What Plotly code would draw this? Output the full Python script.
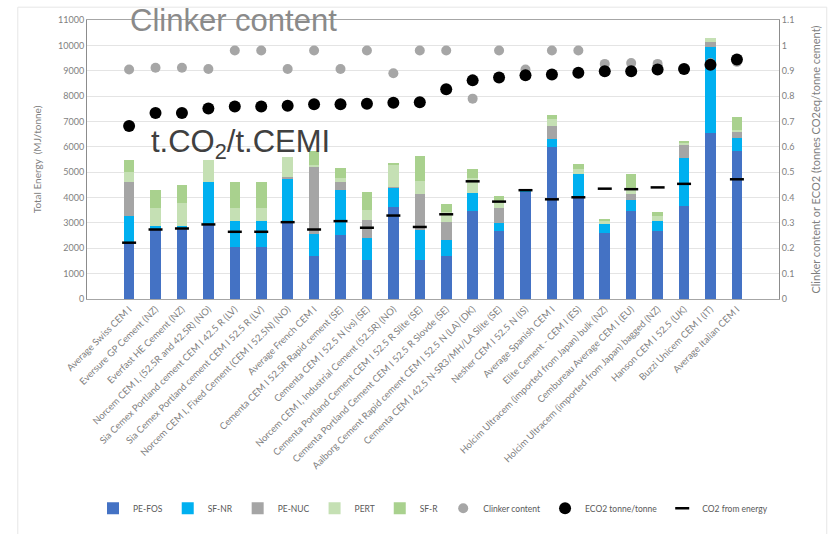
import plotly.graph_objects as go

categories = [
    "Average Swiss CEM I",
    "Eversure GP Cement (NZ)",
    "Everfast HE Cement (NZ)",
    "Norcem CEM I, (52.5R and 42.5R) (NO)",
    "Sia Cemex Portland cement CEM I 42.5 R (LV)",
    "Sia Cemex Portland cement CEM I 52.5 R (LV)",
    "Norcem CEM I, Fixed Cement (CEM I 52.5N) (NO)",
    "Average French CEM I",
    "Cementa CEM I 52.5R Rapid cement (SE)",
    "Cementa CEM I 52.5 N (vs) (SE)",
    "Norcem CEM I, Industrial Cement (52.5R) (NO)",
    "Cementa Portland Cement CEM I 52.5 R Slite (SE)",
    "Cementa Portland Cement CEM I 52.5 R Slovde (SE)",
    "Aalborg Cement Rapid cement CEM I 52.5 N (LA) (DK)",
    "Cementa CEM I 42.5 N-SR3/MH/LA Slite (SE)",
    "Nesher CEM I 52.5 N (IS)",
    "Average Spanish CEM I",
    "Elite Cement - CEM I (ES)",
    "Holcim Ultracem (imported from Japan) bulk (NZ)",
    "Cembureau Average CEM I (EU)",
    "Holcim Ultracem (imported from Japan) bagged (NZ)",
    "Hanson CEM I 52.5 (UK)",
    "Buzzi Unicem CEM I (IT)",
    "Average Italian CEM I",
]

pe_fos = [2220, 2760, 2790, 2940, 2070, 2070, 3050, 1680, 2510, 1530, 3610, 1530,
          1700, 3460, 2680, 4230, 5990, 4020, 2610, 3460, 2700, 3650, 6540, 5830]
sf_nr = [1070, 110, 80, 1690, 1020, 1020, 1700, 870, 1790, 890, 780, 1210,
         620, 710, 310, 50, 300, 910, 350, 440, 390, 1890, 3380, 520]
pe_nuc = [1340, 0, 0, 0, 0, 0, 50, 2670, 330, 680, 40, 1390,
          720, 0, 600, 0, 520, 0, 0, 230, 0, 520, 230, 230]
pert = [390, 710, 910, 850, 500, 500, 800, 50, 160, 390, 870, 520,
        410, 610, 220, 0, 290, 190, 110, 170, 170, 100, 130, 100]
sf_r = [460, 700, 715, 0, 1040, 1040, 0, 580, 360, 710, 70, 970,
        300, 330, 270, 0, 150, 220, 100, 610, 160, 70, 0, 480]

clinker = [0.905, 0.912, 0.912, 0.907, 0.98, 0.98, 0.907, 0.98, 0.907, 0.98, 0.89, 0.98,
           0.98, 0.79, 0.98, 0.905, 0.98, 0.98, 0.927, 0.93, 0.927, 0.905, 0.93, 0.935]
eco2 = [0.682, 0.733, 0.733, 0.751, 0.759, 0.759, 0.762, 0.768, 0.768, 0.77, 0.774, 0.776,
        0.827, 0.862, 0.873, 0.882, 0.885, 0.892, 0.898, 0.898, 0.905, 0.907, 0.924, 0.944]
co2_energy = [0.222, 0.274, 0.278, 0.294, 0.265, 0.265, 0.303, 0.274, 0.307, 0.281, 0.329, 0.284,
              0.334, 0.464, 0.384, 0.429, 0.393, 0.401, 0.435, 0.433, 0.440, 0.454, None, 0.472]

left_ticks = list(range(0, 11001, 1000))
right_ticks = [round(i * 0.1, 1) for i in range(12)]
right_tick_text = ["0"] + [f"{v:g}" for v in right_ticks[1:]]

FONT = "Lato, Liberation Sans, Arial, sans-serif"
GRAY = "#7f7f7f"

fig = go.Figure()
bar_series = [
    ("PE-FOS", pe_fos, "#4472C4"),
    ("SF-NR", sf_nr, "#00B0F0"),
    ("PE-NUC", pe_nuc, "#A5A5A5"),
    ("PERT", pert, "#C5E0B4"),
    ("SF-R", sf_r, "#A9D18E"),
]
for name, vals, col in bar_series:
    fig.add_trace(go.Bar(x=categories, y=vals, name=name, marker_color=col,
                         marker_line_width=0, yaxis="y"))

fig.add_trace(go.Scatter(x=categories, y=clinker, name="Clinker content", mode="markers",
                         marker=dict(color="#A6A6A6", size=10), yaxis="y2"))
fig.add_trace(go.Scatter(x=categories, y=eco2, name="ECO2 tonne/tonne", mode="markers",
                         marker=dict(color="black", size=12), yaxis="y2"))
fig.add_trace(go.Scatter(x=categories, y=co2_energy, name="CO2 from energy", mode="markers",
                         marker=dict(symbol="line-ew", size=10, color="black",
                                     line=dict(color="black", width=2.5)), yaxis="y2"))

fig.update_layout(
    width=831, height=534,
    margin=dict(l=87, r=52, t=20, b=232),
    paper_bgcolor="white", plot_bgcolor="white",
    barmode="stack", bargap=0.6,
    font=dict(family=FONT, color="#595959", size=9),
    showlegend=True,
    legend=dict(orientation="h", x=0.5, xanchor="center", y=-0.75, yanchor="middle",
                traceorder="normal", font=dict(size=8.5, color="#595959"),
                itemwidth=30, tracegroupgap=0),
    xaxis=dict(tickangle=-45, tickfont=dict(size=9.5, color="#7f7f7f"), showline=True,
               linecolor="#A6A6A6", mirror=True, ticks="", automargin=False, showgrid=False),
    yaxis=dict(range=[0, 11000], tickvals=left_ticks, ticktext=[str(v) for v in left_ticks],
               showgrid=True, gridcolor="#E4E4E4", zeroline=False, showline=True,
               linecolor="#8c8c8c", mirror=False, ticks="", ticklen=0,
               tickfont=dict(size=9, color=GRAY),
               title=dict(text="Total Energy  (MJ/tonne)", font=dict(size=10, color=GRAY), standoff=14),
               automargin=False),
    yaxis2=dict(range=[0, 1.1], tickvals=right_ticks, ticktext=right_tick_text, overlaying="y",
                side="right", showgrid=False, zeroline=False, showline=True, linecolor="#8c8c8c",
                tickfont=dict(size=9, color=GRAY),
                title=dict(text="Clinker content or ECO2 (tonnes CO2eq/tonne cement)",
                           font=dict(size=11, color=GRAY), standoff=18),
                automargin=False),
    annotations=[
        dict(text="Clinker content", x=0.211, y=1.0, xref="paper", yref="paper",
             xanchor="center", yanchor="middle", showarrow=False,
             font=dict(family="Liberation Sans, Arial", size=31, color="#8a8a8a")),
        dict(text="t.CO<sub>2</sub>/t.CEMI", x=0.2225, y=0.555, xref="paper", yref="paper",
             xanchor="center", yanchor="middle", showarrow=False,
             font=dict(family="Liberation Sans, Arial", size=31, color="#404040")),
    ],
    shapes=[dict(type="rect", xref="paper", yref="paper", x0=-0.1, x1=1.069, y0=-0.86, y1=1.046,
                 line=dict(color="#E6E6E6", width=1), layer="below")],
)

fig.write_html("out.html")
